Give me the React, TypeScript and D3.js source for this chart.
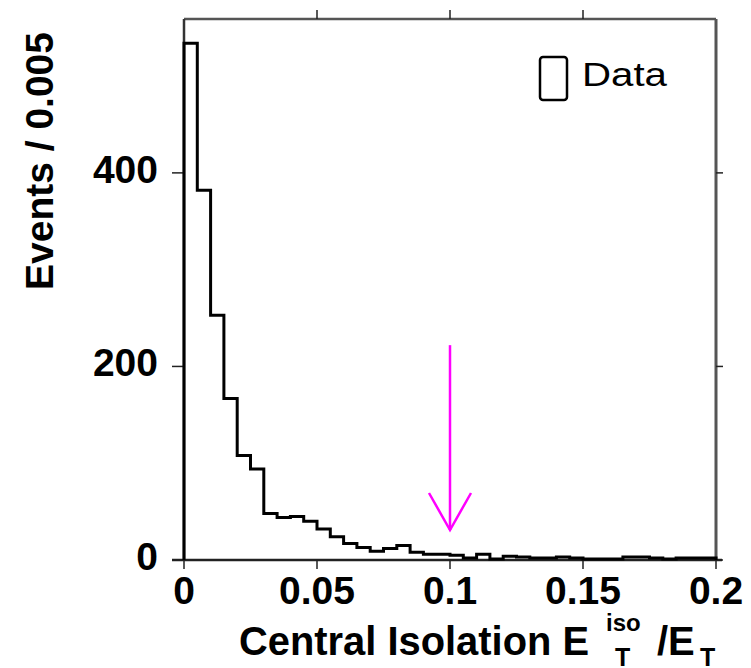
import React from "react";
import * as d3 from "d3";

const binWidth = 0.005;
const counts = [534, 382, 253, 167, 108, 94, 48, 44, 45, 40, 32, 24, 17, 13, 9, 12, 15, 8, 6, 6, 5, 2, 6, 1, 4, 3, 2, 2, 3, 2, 1, 1, 1, 3, 3, 2, 1, 2, 2, 2];
const xTicks = [0, 0.05, 0.1, 0.15, 0.2];
const xTickLabels = ["0", "0.05", "0.1", "0.15", "0.2"];
const yTicks = [0, 200, 400];
const yTickLabels = ["0", "200", "400"];
const cutValue = 0.1;
const arrowTop = 222;
const arrowBottom = 31;
const legendLabel = "Data";

const W = 751, H = 668;
const left = 184, right = 716, top = 19, bottom = 560;

export default function App() {
  const x = d3.scaleLinear().domain([0, 0.2]).range([left, right]);
  const y = d3.scaleLinear().domain([0, 559]).range([bottom, top]);

  const pts: [number, number][] = [[x(0), y(0)]];
  counts.forEach((c, i) => {
    pts.push([x(i * binWidth), y(c)]);
    pts.push([x((i + 1) * binWidth), y(c)]);
  });
  pts.push([x(counts.length * binWidth), y(0)]);
  const histPath = d3.line()(pts) || "";

  const font = "'Liberation Sans', Arial, Helvetica, sans-serif";
  const ax = x(cutValue);
  const aTop = y(arrowTop), aBot = y(arrowBottom);

  return (
    <svg width={W} height={H} style={{ position: "absolute", left: 0, top: 0, background: "#fff" }} fontFamily={font}>
      <rect x={0} y={0} width={W} height={H} fill="#fff" />
      {/* frame */}
      <line x1={left} y1={top} x2={right} y2={top} stroke="#555" strokeWidth={2.5} />
      <line x1={right} y1={top} x2={right} y2={bottom} stroke="#555" strokeWidth={3} />
      <line x1={left} y1={top} x2={left} y2={bottom} stroke="#333" strokeWidth={2.5} />
      <line x1={left - 12} y1={bottom} x2={right + 6} y2={bottom} stroke="#222" strokeWidth={2.5} />
      {/* ticks */}
      {xTicks.map((t, i) => (
        <g key={"xt" + i}>
          <line x1={x(t)} y1={bottom} x2={x(t)} y2={bottom + 9} stroke="#222" strokeWidth={1.5} />
          {i > 0 && i < xTicks.length - 1 && (
            <line x1={x(t)} y1={top} x2={x(t)} y2={top - 9} stroke="#222" strokeWidth={1.5} />
          )}
          <text x={x(t)} y={604} textAnchor="middle" fontSize={39} fontWeight="bold" fill="#000">{xTickLabels[i]}</text>
        </g>
      ))}
      {yTicks.map((t, i) => (
        <g key={"yt" + i}>
          <line x1={left - 12} y1={y(t)} x2={left} y2={y(t)} stroke="#222" strokeWidth={1.5} />
          <line x1={right} y1={y(t)} x2={right + 7} y2={y(t)} stroke="#222" strokeWidth={1.5} />
          <text x={158} y={y(t) + 10} textAnchor="end" fontSize={39} fontWeight="bold" fill="#000">{yTickLabels[i]}</text>
        </g>
      ))}
      {/* histogram */}
      <path d={histPath} fill="none" stroke="#000" strokeWidth={3} strokeLinejoin="miter" />
      {/* arrow */}
      <g stroke="#ff00ff" strokeWidth={2.5} fill="none">
        <line x1={ax} y1={aTop} x2={ax} y2={aBot} />
        <polyline points={`${ax - 21},${aBot - 37} ${ax},${aBot} ${ax + 21},${aBot - 37}`} />
      </g>
      {/* legend */}
      <rect x={540} y={57} width={27} height={43} rx={3} fill="none" stroke="#000" strokeWidth={2.5} />
      <text x={582} y={86} fontSize={33} fill="#000" textLength={85} lengthAdjust="spacingAndGlyphs">{legendLabel}</text>
      {/* y label */}
      <text transform="translate(53,161) rotate(-90)" textAnchor="middle" fontSize={39} fontWeight="bold" fill="#000">Events / 0.005</text>
      {/* x label */}
      <text x={239} y={655} fontSize={40} fontWeight="bold" fill="#000" textLength={350} lengthAdjust="spacingAndGlyphs">Central Isolation E</text>
      <text x={606} y={631} fontSize={24} fontWeight="bold" fill="#000">iso</text>
      <text x={615} y={666} fontSize={25} fontWeight="bold" fill="#000">T</text>
      <text x={657} y={655} fontSize={40} fontWeight="bold" fill="#000">/E</text>
      <text x={700} y={666} fontSize={25} fontWeight="bold" fill="#000">T</text>
    </svg>
  );
}
